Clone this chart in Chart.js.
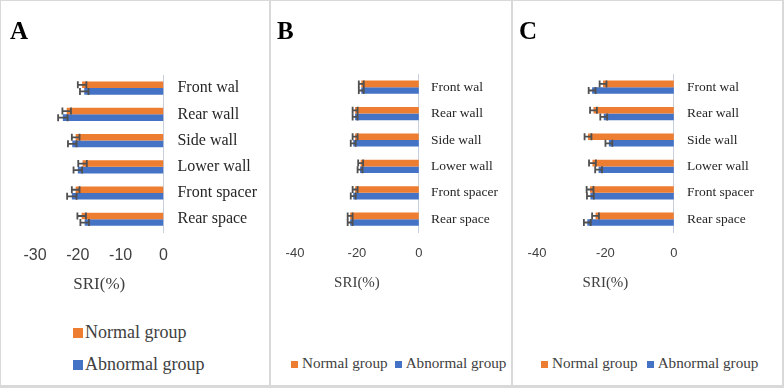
<!DOCTYPE html>
<html>
<head>
<meta charset="utf-8">
<script src="https://cdn.jsdelivr.net/npm/chart.js@4.4.0/dist/chart.umd.min.js"></script>
<style>
  html, body { margin: 0; padding: 0; background: #ffffff; }
  #wrap { position: relative; width: 784px; height: 388px; background: #d9d9d9; overflow: hidden; }
  .panel { position: absolute; top: 1px; height: 384px; background: #ffffff; }
  .panel canvas { position: absolute; left: 0; top: 0; }
  .letter { position: absolute; font-family: "Liberation Serif", serif; font-weight: bold; font-size: 25px; color: #000; top: 17px; }
  .lg { position: absolute; font-family: "Liberation Serif", serif; color: #404040; white-space: nowrap; line-height: 1; }
  .lg span.box { display: inline-block; }
</style>
</head>
<body>
<div id="wrap">
  <div class="panel" id="pA" style="left:1px; width:268px;"><canvas id="cA" width="268" height="306"></canvas></div>
  <div class="panel" id="pB" style="left:271px; width:240px;"><canvas id="cB" width="240" height="297"></canvas></div>
  <div class="panel" id="pC" style="left:513px; width:269px;"><canvas id="cC" width="269" height="297"></canvas></div>
</div>
<script>
// ---- data ----
const categories = ['Front wal', 'Rear wall', 'Side wall', 'Lower wall', 'Front spacer', 'Rear space'];
const seriesNames = ['Normal group', 'Abnormal group'];
const seriesColors = ['#ED7D31', '#4472C4'];
const panelLetters = ['A', 'B', 'C'];
const axisTitle = 'SRI(%)';

const normalA   = [-19.0, -22.6, -20.5, -18.9, -20.5, -19.1];
const abnormalA = [-18.5, -23.5, -21.3, -20.0, -21.4, -18.4];
const errNormalA   = [1.0, 1.0, 0.9, 1.0, 0.9, 1.0];
const errAbnormalA = [1.0, 1.1, 1.0, 1.0, 1.1, 1.0];

const normalB   = [-18.6, -20.6, -20.6, -18.8, -20.6, -22.2];
const abnormalB = [-18.6, -20.6, -21.2, -19.0, -21.2, -22.2];
const errNormalB   = [0.8, 0.8, 0.8, 0.8, 0.8, 0.8];
const errAbnormalB = [0.8, 0.8, 0.8, 0.8, 0.8, 0.8];

const normalC   = [-20.7, -23.5, -25.1, -23.8, -24.5, -22.9];
const abnormalC = [-23.9, -20.5, -19.0, -22.0, -24.4, -25.3];
const errNormalC   = [1.0, 1.0, 1.0, 1.0, 1.0, 1.0];
const errAbnormalC = [1.0, 1.0, 1.0, 1.0, 1.0, 1.0];

const ticksA = [-30, -20, -10, 0];
const ticksBC = [-40, -20, 0];

// ---- error bar plugin ----
const errorBarPlugin = {
  id: 'errorBars',
  afterDatasetsDraw(chart) {
    const ctx = chart.ctx;
    const xs = chart.scales.x;
    chart.data.datasets.forEach((ds, di) => {
      const meta = chart.getDatasetMeta(di);
      meta.data.forEach((bar, i) => {
        const v = ds.data[i], e = ds.errors[i];
        const x1 = xs.getPixelForValue(v - e);
        const x2 = xs.getPixelForValue(v + e);
        const y = bar.y, h = 3.5;
        ctx.save();
        ctx.strokeStyle = '#505050';
        ctx.lineWidth = 1.8;
        ctx.beginPath();
        ctx.moveTo(x1, y); ctx.lineTo(x2, y);
        ctx.moveTo(x1, y - h); ctx.lineTo(x1, y + h);
        ctx.moveTo(x2, y - h); ctx.lineTo(x2, y + h);
        ctx.stroke();
        ctx.restore();
      });
    });
  }
};

function makeChart(id, normal, abnormal, errN, errA, tickVals, cfg) {
  return new Chart(document.getElementById(id), {
    type: 'bar',
    data: {
      labels: categories,
      datasets: [
        { label: seriesNames[0], data: normal, errors: errN, backgroundColor: seriesColors[0], borderWidth: 0 },
        { label: seriesNames[1], data: abnormal, errors: errA, backgroundColor: seriesColors[1], borderWidth: 0 }
      ]
    },
    options: {
      indexAxis: 'y',
      responsive: false,
      animation: false,
      categoryPercentage: 0.5,
      barPercentage: 1.0,
      layout: { padding: cfg.padding },
      scales: {
        x: {
          min: tickVals[0],
          max: tickVals[tickVals.length - 1],
          afterBuildTicks: (axis) => { axis.ticks = tickVals.map(v => ({ value: v })); },
          grid: { display: false, drawTicks: false },
          border: { display: false },
          ticks: { font: { family: 'Liberation Sans', size: cfg.tickSize }, color: '#404040', padding: cfg.tickPad },
          title: { display: true, text: axisTitle, font: { family: 'Liberation Serif', size: cfg.titleSize }, color: '#404040',
                   padding: { top: cfg.titlePadTop, bottom: cfg.titlePadBottom } }
        },
        y: {
          position: 'right',
          grid: { display: false, drawTicks: false },
          border: { display: true, color: '#c8d0e0', width: 1 },
          ticks: { font: { family: 'Liberation Serif', size: cfg.catSize }, color: '#262626', padding: cfg.catPad }
        }
      },
      plugins: {
        tooltip: { enabled: false },
        legend: { display: false }
      }
    },
    plugins: [errorBarPlugin]
  });
}

makeChart('cA', normalA, abnormalA, errNormalA, errAbnormalA, ticksA, {
  padding: { left: 34, right: -2, top: 74, bottom: 2 },
  tickSize: 16, tickPad: 14, titleSize: 17, titlePadTop: -5, titlePadBottom: 10,
  catSize: 16, catPad: 14
});
makeChart('cB', normalB, abnormalB, errNormalB, errAbnormalB, ticksBC, {
  padding: { left: 24, right: 1, top: 73, bottom: 2 },
  tickSize: 13, tickPad: 13, titleSize: 15, titlePadTop: 0, titlePadBottom: 4,
  catSize: 13.5, catPad: 12
});
makeChart('cC', normalC, abnormalC, errNormalC, errAbnormalC, ticksBC, {
  padding: { left: 24, right: 15, top: 73, bottom: 2 },
  tickSize: 13, tickPad: 13, titleSize: 15, titlePadTop: 0, titlePadBottom: 4,
  catSize: 13.5, catPad: 13
});

// panel letters
const lettersLeft = [10, 277, 519];
panelLetters.forEach((t, i) => {
  const d = document.createElement('div');
  d.className = 'letter';
  d.style.left = lettersLeft[i] + 'px';
  d.textContent = t;
  document.getElementById('wrap').appendChild(d);
});

// HTML legends built from the series names / colours
function legendItem(name, color, boxSize, gap) {
  const wrap = document.createElement('span');
  const b = document.createElement('span');
  b.className = 'box';
  b.style.width = boxSize + 'px';
  b.style.height = boxSize + 'px';
  b.style.marginRight = gap + 'px';
  b.style.background = color;
  wrap.appendChild(b);
  wrap.appendChild(document.createTextNode(name));
  return wrap;
}
// Panel A: vertical legend
const lgTopsA = [322, 354];
seriesNames.forEach((name, i) => {
  const d = document.createElement('div');
  d.className = 'lg';
  d.style.left = '72px';
  d.style.top = lgTopsA[i] + 'px';
  d.style.fontSize = '18px';
  d.appendChild(legendItem(name, seriesColors[i], 10, 2));
  document.getElementById('pA').appendChild(d);
});
// Panels B and C: horizontal legend
[['pB', 20, 7], ['pC', 28, 9]].forEach(([pid, left, sep]) => {
  const d = document.createElement('div');
  d.className = 'lg';
  d.style.left = left + 'px';
  d.style.top = '354px';
  d.style.fontSize = '15.2px';
  seriesNames.forEach((name, i) => {
    const it = legendItem(name, seriesColors[i], 7, 4);
    if (i > 0) it.style.marginLeft = sep + 'px';
    d.appendChild(it);
  });
  document.getElementById(pid).appendChild(d);
});
</script>
</body>
</html>
